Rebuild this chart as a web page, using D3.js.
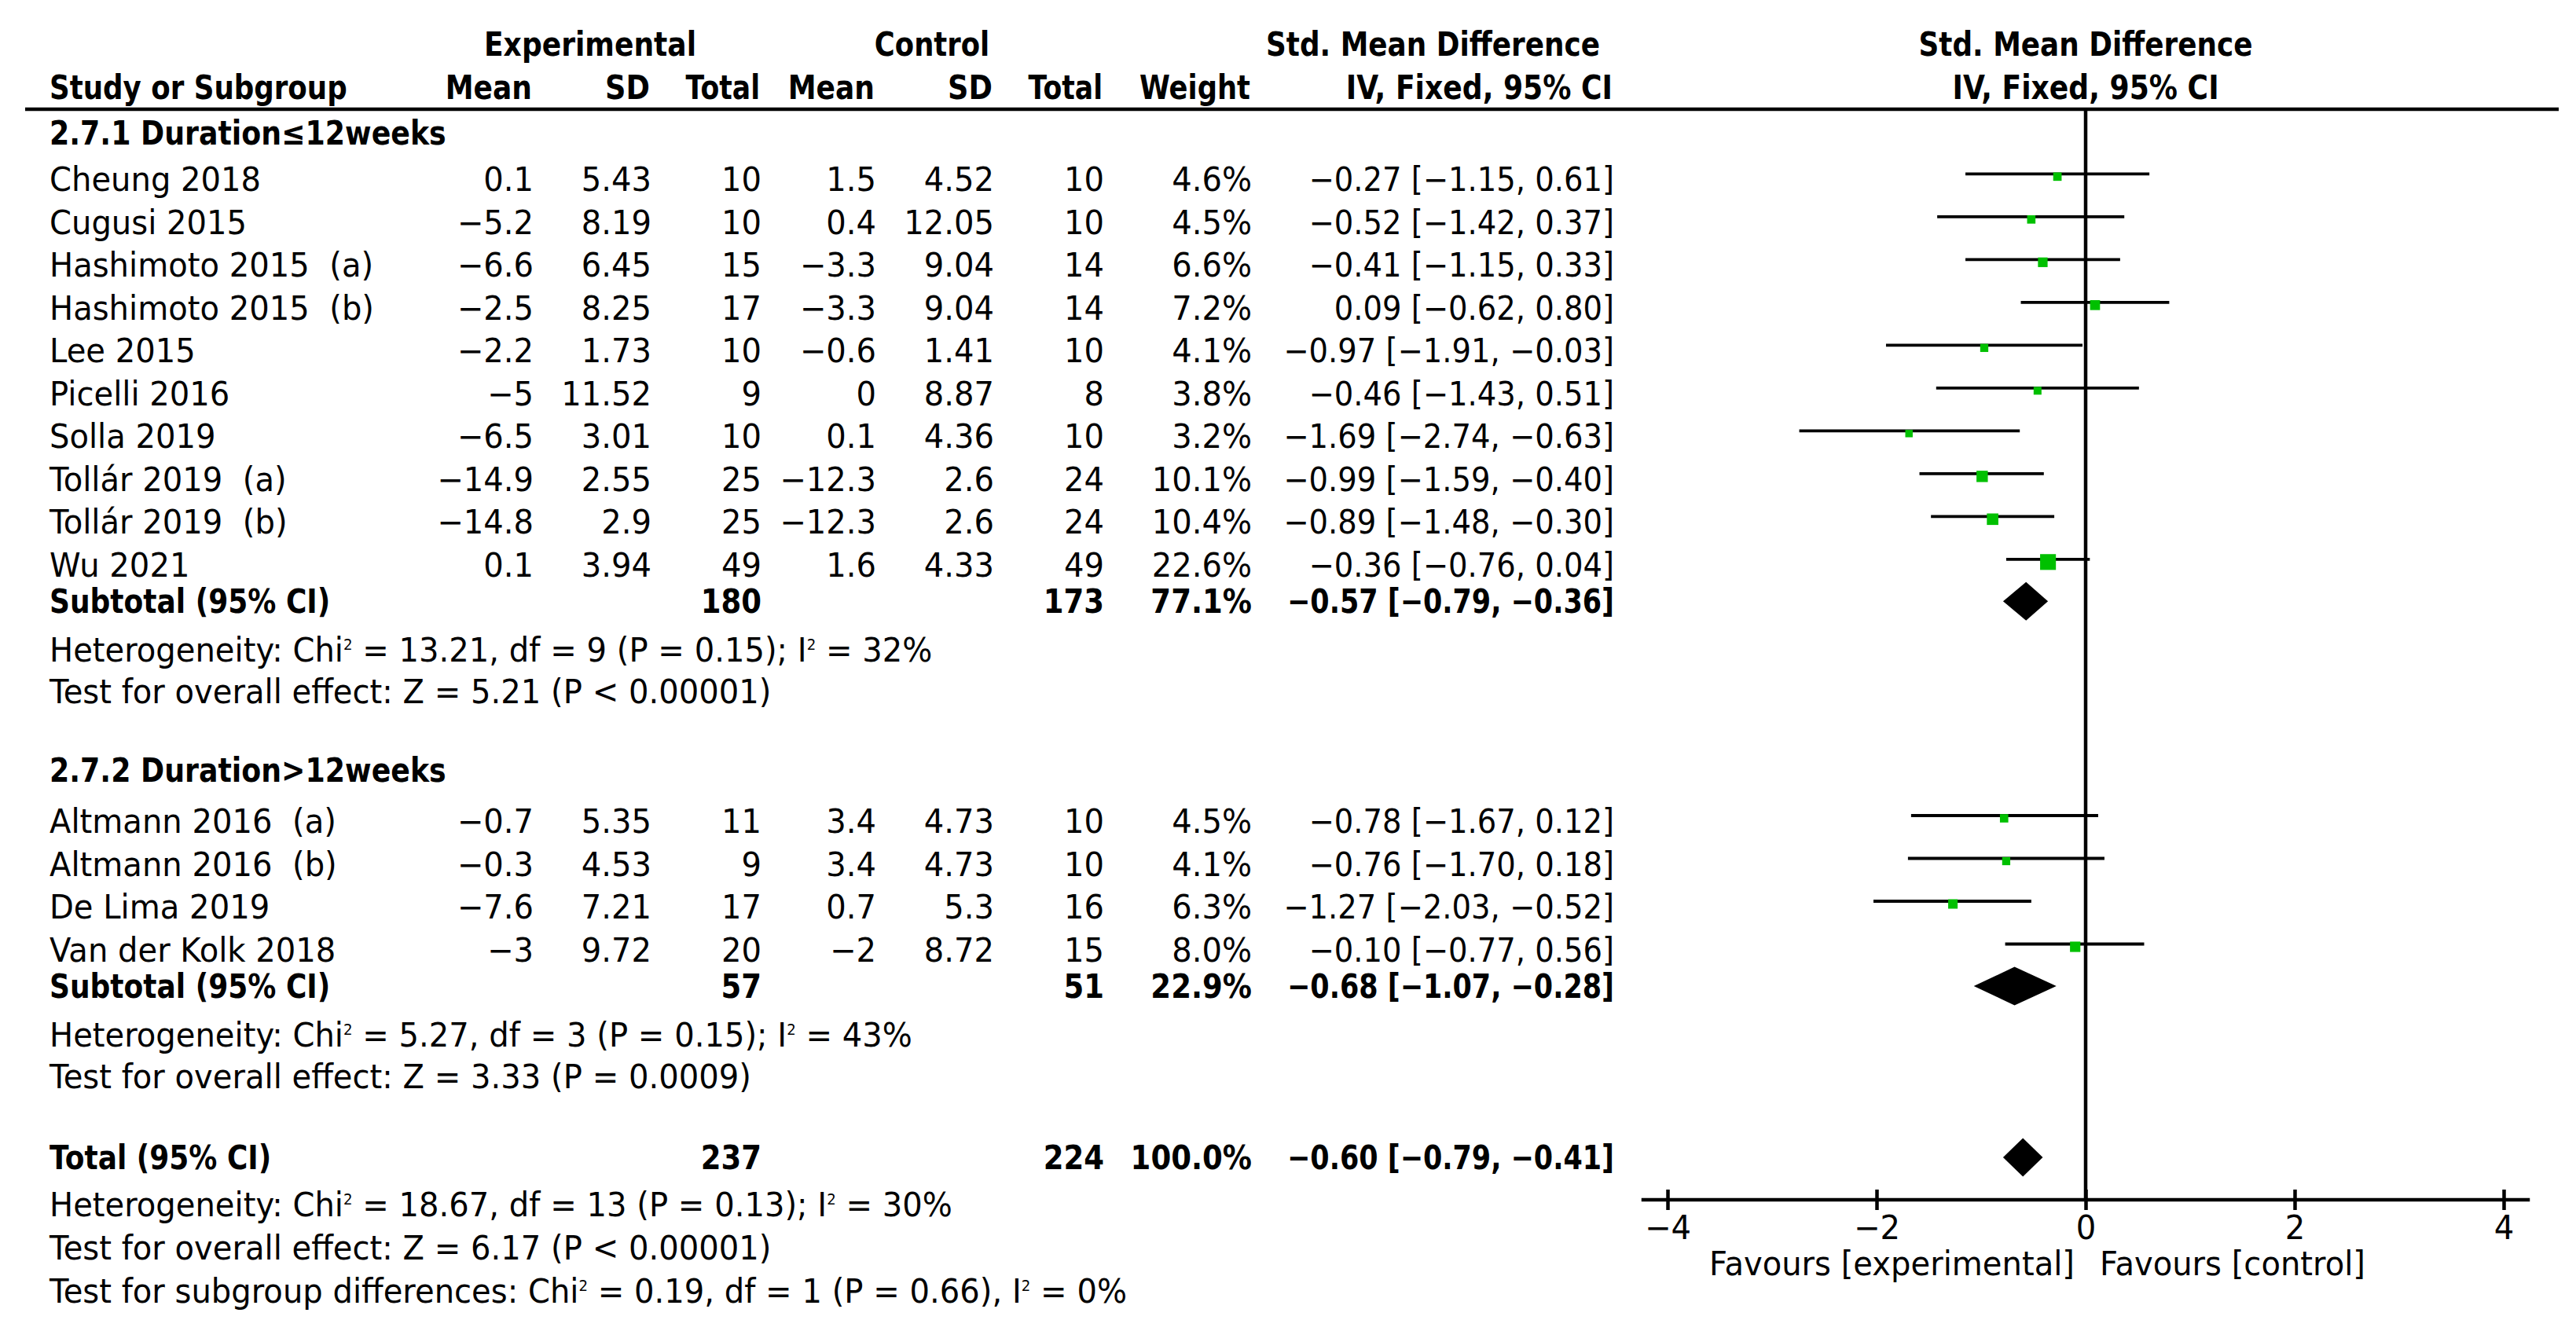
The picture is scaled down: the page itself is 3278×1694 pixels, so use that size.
<!DOCTYPE html>
<html><head><meta charset="utf-8">
<script src="https://cdn.jsdelivr.net/npm/d3@7"></script>
<style>html,body{margin:0;padding:0;background:#fff}svg{display:block}text{white-space:pre}</style>
</head><body>
<script>
// ---------- data ----------
const studies = ["Cheung 2018","Cugusi 2015","Hashimoto 2015  (a)","Hashimoto 2015  (b)","Lee 2015","Picelli 2016","Solla 2019","Tollár 2019  (a)","Tollár 2019  (b)","Wu 2021","Altmann 2016  (a)","Altmann 2016  (b)","De Lima 2019","Van der Kolk 2018"];
const studyGroup = [0,0,0,0,0,0,0,0,0,0,1,1,1,1];
const expMean = [0.1,-5.2,-6.6,-2.5,-2.2,-5,-6.5,-14.9,-14.8,0.1,-0.7,-0.3,-7.6,-3];
const expSD = [5.43,8.19,6.45,8.25,1.73,11.52,3.01,2.55,2.9,3.94,5.35,4.53,7.21,9.72];
const expN = [10,10,15,17,10,9,10,25,25,49,11,9,17,20];
const ctrlMean = [1.5,0.4,-3.3,-3.3,-0.6,0,0.1,-12.3,-12.3,1.6,3.4,3.4,0.7,-2];
const ctrlSD = [4.52,12.05,9.04,9.04,1.41,8.87,4.36,2.6,2.6,4.33,4.73,4.73,5.3,8.72];
const ctrlN = [10,10,14,14,10,8,10,24,24,49,10,10,16,15];
const weight = [4.6,4.5,6.6,7.2,4.1,3.8,3.2,10.1,10.4,22.6,4.5,4.1,6.3,8.0];
const smd = [-0.27,-0.52,-0.41,0.09,-0.97,-0.46,-1.69,-0.99,-0.89,-0.36,-0.78,-0.76,-1.27,-0.10];
const ciLow = [-1.15,-1.42,-1.15,-0.62,-1.91,-1.43,-2.74,-1.59,-1.48,-0.76,-1.67,-1.70,-2.03,-0.77];
const ciHigh = [0.61,0.37,0.33,0.80,-0.03,0.51,-0.63,-0.40,-0.30,0.04,0.12,0.18,-0.52,0.56];

const groupNames = ["2.7.1 Duration≤12weeks","2.7.2 Duration>12weeks"];
const subExpN = [180,57];
const subCtrlN = [173,51];
const subWeight = [77.1,22.9];
const subSmd = [-0.57,-0.68];
const subLow = [-0.79,-1.07];
const subHigh = [-0.36,-0.28];
const subHet = [
  [["Heterogeneity: Chi"],["2",1],[" = 13.21, df = 9 (P = 0.15); I"],["2",1],[" = 32%"]],
  [["Heterogeneity: Chi"],["2",1],[" = 5.27, df = 3 (P = 0.15); I"],["2",1],[" = 43%"]]
];
const subEffect = ["Test for overall effect: Z = 5.21 (P < 0.00001)","Test for overall effect: Z = 3.33 (P = 0.0009)"];

const totalExpN = 237, totalCtrlN = 224, totalWeight = 100.0;
const totalSmd = -0.60, totalLow = -0.79, totalHigh = -0.41;
const totalNotes = [
  [["Heterogeneity: Chi"],["2",1],[" = 18.67, df = 13 (P = 0.13); I"],["2",1],[" = 30%"]],
  [["Test for overall effect: Z = 6.17 (P < 0.00001)"]],
  [["Test for subgroup differences: Chi"],["2",1],[" = 0.19, df = 1 (P = 0.66), I"],["2",1],[" = 0%"]]
];
const tickValues = [-4,-2,0,2,4];
const favourLeft = "Favours [experimental]", favourRight = "Favours [control]";

// ---------- layout ----------
const W = 3278, H = 1694;
const FS = 42, SX = 0.955, FONT = "DejaVu Sans";
const col = {label:63, expMean:679, expSD:829, expN:969, ctrlMean:1115, ctrlSD:1265, ctrlN:1405, weight:1593, ci:2054};
const green = "#00c000";

const svg = d3.select("body").append("svg").attr("width",W).attr("height",H);
svg.append("rect").attr("width",W).attr("height",H).attr("fill","#fff");

const fmt = v => String(v).replace("-","−");
const f2 = v => v.toFixed(2).replace(/-/g,"−");
const ciStr = (m,l,h) => `${f2(m)} [${f2(l)}, ${f2(h)}]`;

function txt(x,y,content,opt={}){
  const bold = !!opt.bold;
  const sx = SX*(opt.squeeze||1);
  const t = svg.append("text")
    .attr("transform",`translate(${x},${y}) scale(${sx},1)`)
    .attr("font-family",FONT).attr("font-size",FS)
    .attr("font-weight","normal")
    .attr("text-anchor",opt.anchor||"start").attr("fill","#000");
  if (typeof content === "string") {
    t.text(content);
    if (bold) {
      const len = t.node().getComputedTextLength();
      t.attr("font-weight","bold").attr("textLength",len*1.01).attr("lengthAdjust","spacingAndGlyphs");
    }
    return t;
  }
  let up = false;
  content.forEach(([s,sup])=>{
    const ts = t.append("tspan").text(s);
    if (sup && !up){ ts.attr("font-size",19).attr("dy",-15); up = true; }
    else if (!sup && up){ ts.attr("dy",15); up = false; }
  });
  return t;
}

// x scale for forest plot
const x = d3.scaleLinear().domain([-4,4]).range([2122,3186]);
const side = d3.scaleSqrt().domain([0,25]).range([3,21]);

// row baselines
const groupFirst = [243.3, 1060];
const groupHeadY = [184, 995];
const STEP = 54.5;
const studyY = i => { const g = studyGroup[i]; const k = studyGroup.slice(0,i).filter(v=>v===g).length; return groupFirst[g] + STEP*k; };
const groupLastY = g => groupFirst[g] + STEP*(studyGroup.filter(v=>v===g).length-1);
const subY = g => groupLastY(g) + 46.5;
const totalY = 1488;

// ---------- headers ----------
txt(751,71,"Experimental",{bold:true,anchor:"middle"});
txt(1186,71,"Control",{bold:true,anchor:"middle"});
txt(2036,71,"Std. Mean Difference",{bold:true,anchor:"end"});
txt(x(0),71,"Std. Mean Difference",{bold:true,anchor:"middle"});
txt(col.label,126,"Study or Subgroup",{bold:true});
[["Mean",col.expMean],["SD",col.expSD],["Total",col.expN],["Mean",col.ctrlMean],["SD",col.ctrlSD],["Total",col.ctrlN],["Weight",col.weight],["IV, Fixed, 95% CI",col.ci]]
  .forEach(([s,cx])=>txt(cx-2,126,s,{bold:true,anchor:"end"}));
txt(x(0),126,"IV, Fixed, 95% CI",{bold:true,anchor:"middle"});

// rule
svg.append("line").attr("x1",32).attr("x2",3256).attr("y1",139).attr("y2",139).attr("stroke","#000").attr("stroke-width",4.5);
// zero line
svg.append("line").attr("x1",x(0)).attr("x2",x(0)).attr("y1",139).attr("y2",1527).attr("stroke","#000").attr("stroke-width",4.5);

// ---------- studies ----------
studies.forEach((s,i)=>{
  const y = studyY(i);
  txt(col.label,y,s);
  txt(col.expMean,y,fmt(expMean[i]),{anchor:"end"});
  txt(col.expSD,y,fmt(expSD[i]),{anchor:"end"});
  txt(col.expN,y,fmt(expN[i]),{anchor:"end"});
  txt(col.ctrlMean,y,fmt(ctrlMean[i]),{anchor:"end"});
  txt(col.ctrlSD,y,fmt(ctrlSD[i]),{anchor:"end"});
  txt(col.ctrlN,y,fmt(ctrlN[i]),{anchor:"end"});
  txt(col.weight,y,weight[i].toFixed(1)+"%",{anchor:"end"});
  txt(col.ci,y,ciStr(smd[i],ciLow[i],ciHigh[i]),{anchor:"end",squeeze:0.96});
  svg.append("line").attr("x1",x(ciLow[i])).attr("x2",x(ciHigh[i]))
    .attr("y1",y-22).attr("y2",y-22).attr("stroke","#000").attr("stroke-width",3.8);
  const sz = side(weight[i]);
  svg.append("rect").attr("x",x(smd[i])-sz/2).attr("y",y-18.5-sz/2)
    .attr("width",sz).attr("height",sz).attr("fill",green);
});

function diamond(m,l,h,cy){
  const hh = 24.5;
  svg.append("path").attr("d",`M${x(l)},${cy}L${x(m)},${cy-hh}L${x(h)},${cy}L${x(m)},${cy+hh}Z`).attr("fill","#000");
}

// ---------- subgroups ----------
groupNames.forEach((g,gi)=>{
  txt(col.label,groupHeadY[gi],g,{bold:true});
  const y = subY(gi);
  txt(col.label,y,"Subtotal (95% CI)",{bold:true});
  txt(col.expN,y,String(subExpN[gi]),{bold:true,anchor:"end"});
  txt(col.ctrlN,y,String(subCtrlN[gi]),{bold:true,anchor:"end"});
  txt(col.weight,y,subWeight[gi].toFixed(1)+"%",{bold:true,anchor:"end"});
  txt(col.ci,y,ciStr(subSmd[gi],subLow[gi],subHigh[gi]),{bold:true,anchor:"end",squeeze:0.94});
  diamond(subSmd[gi],subLow[gi],subHigh[gi],y-15);
  txt(col.label,y+61.5,subHet[gi]);
  txt(col.label,y+115,subEffect[gi]);
});

// ---------- total ----------
txt(col.label,totalY,"Total (95% CI)",{bold:true});
txt(col.expN,totalY,String(totalExpN),{bold:true,anchor:"end"});
txt(col.ctrlN,totalY,String(totalCtrlN),{bold:true,anchor:"end"});
txt(col.weight,totalY,totalWeight.toFixed(1)+"%",{bold:true,anchor:"end"});
txt(col.ci,totalY,ciStr(totalSmd,totalLow,totalHigh),{bold:true,anchor:"end",squeeze:0.94});
diamond(totalSmd,totalLow,totalHigh,totalY-15);
totalNotes.forEach((n,k)=>txt(col.label,totalY+60+55*k,n));

// ---------- axis ----------
const axisY = 1527;
const ax = svg.append("g").attr("transform",`translate(0,${axisY})`)
  .call(d3.axisBottom(x).tickValues(tickValues).tickSizeOuter(0).tickSizeInner(13));
ax.select(".domain").remove();
ax.append("line").attr("x1",x(-4.25)).attr("x2",x(4.25)).attr("y1",0).attr("y2",0).attr("stroke","#000").attr("stroke-width",4.5);
ax.selectAll(".tick line").attr("y1",-13).attr("y2",13).attr("stroke","#000").attr("stroke-width",4.5);
ax.selectAll(".tick text").attr("y",50).attr("dy",0)
  .attr("font-family",FONT).attr("font-size",FS).attr("fill","#000")
  .attr("transform",`scale(${SX},1)`);
txt(x(0)-14,1623,favourLeft,{anchor:"end"});
txt(x(0)+18,1623,favourRight);
</script>
</body></html>
